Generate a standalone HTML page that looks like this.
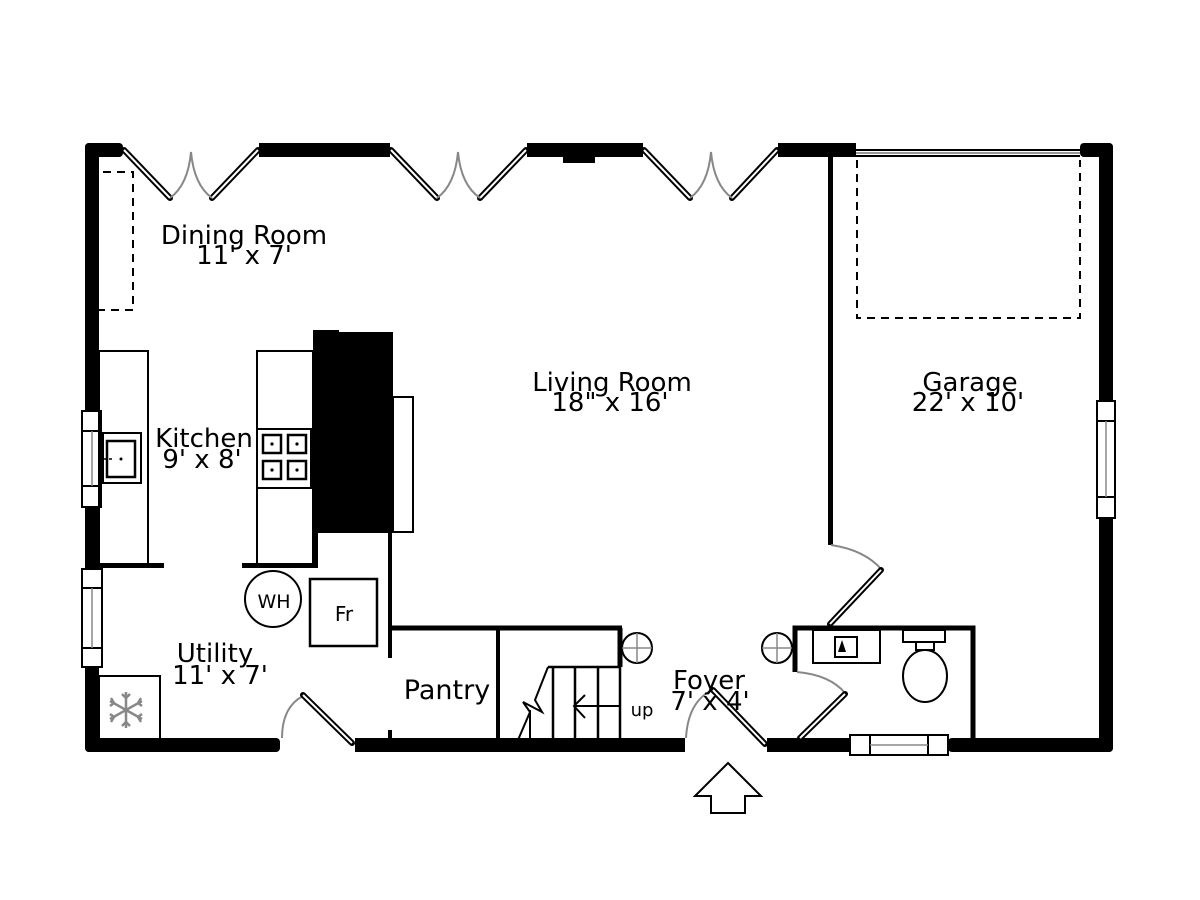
<!DOCTYPE html>
<html><head><meta charset="utf-8"><style>
html,body{margin:0;padding:0;background:#fff;width:1200px;height:900px;overflow:hidden}
svg{display:block}
text{font-family:"DejaVu Sans","Liberation Sans",sans-serif;fill:#000}
</style></head><body>
<svg width="1200" height="900" viewBox="0 0 1200 900" xmlns="http://www.w3.org/2000/svg">
<rect width="1200" height="900" fill="#fff"/>
<g fill="#000">
<rect x="85" y="143" width="14" height="609" rx="4"/>
<rect x="85" y="143" width="38" height="14" rx="4"/>
<rect x="259" y="143" width="131" height="14"/>
<rect x="527" y="143" width="116" height="14"/>
<rect x="563" y="155" width="32" height="8"/>
<rect x="778" y="143" width="78" height="14"/>
<rect x="1080" y="143" width="33" height="14" rx="4"/>
<rect x="1099" y="143" width="14" height="609" rx="4"/>
<rect x="85" y="738" width="195" height="14" rx="4"/>
<rect x="355" y="738" width="330" height="14"/>
<rect x="767" y="738" width="83" height="14"/>
<rect x="948" y="738" width="165" height="14" rx="4"/>
</g>
<g stroke="#000" stroke-width="2"><line x1="856" y1="150" x2="1080" y2="150"/><line x1="856" y1="156" x2="1080" y2="156"/></g>
<line x1="856" y1="153" x2="1080" y2="153" stroke="#999" stroke-width="2"/>
<g>
<g stroke="#000" stroke-width="6" stroke-linecap="round" fill="none">
<path d="M124 150 L170 198 M258 150 L212 198"/>
<path d="M391 150 L437 198 M526 150 L480 198"/>
<path d="M644 150 L690 198 M777 150 L732 198"/>
</g>
<g stroke="#fff" stroke-width="2" fill="none">
<path d="M124 150 L170 198 M258 150 L212 198"/>
<path d="M391 150 L437 198 M526 150 L480 198"/>
<path d="M644 150 L690 198 M777 150 L732 198"/>
</g>
<g stroke="#888" stroke-width="2" fill="none">
<path d="M170 198 Q188 185 191 152 Q194 185 212 198"/>
<path d="M437 198 Q455 185 458 152 Q461 185 480 198"/>
<path d="M690 198 Q708 185 711 152 Q714 185 732 198"/>
</g>
</g>
<g fill="none" stroke="#000" stroke-width="2" stroke-dasharray="8,6">
<path d="M103 172 H133 V310 H99"/>
<path d="M857 160 V318 H1080 V160"/>
</g>
<g fill="#fff" stroke="#000" stroke-width="2">
<rect x="82" y="411" width="19" height="96"/>
<line x1="82" y1="431" x2="101" y2="431"/><line x1="82" y1="486" x2="101" y2="486"/>
<rect x="82" y="569" width="20" height="98"/>
<line x1="82" y1="588" x2="102" y2="588"/><line x1="82" y1="648" x2="102" y2="648"/>
<rect x="1097" y="401" width="18" height="117"/>
<line x1="1097" y1="421" x2="1115" y2="421"/><line x1="1097" y1="497" x2="1115" y2="497"/>
<rect x="850" y="735" width="98" height="20"/>
<line x1="870" y1="735" x2="870" y2="755"/><line x1="928" y1="735" x2="928" y2="755"/>
</g>
<g stroke="#888" stroke-width="1.5">
<line x1="92" y1="431" x2="92" y2="486"/><line x1="92" y1="588" x2="92" y2="648"/>
<line x1="1106" y1="421" x2="1106" y2="497"/><line x1="870" y1="745" x2="928" y2="745"/>
</g>
<g fill="none" stroke="#000" stroke-width="2">
<rect x="99" y="351" width="49" height="214"/>
<rect x="257" y="351" width="56" height="214"/>
<rect x="103" y="433" width="38" height="50"/>
<rect x="107" y="441" width="28" height="36" stroke-width="2.5"/>
<rect x="257" y="429" width="54" height="59"/>
<rect x="263" y="435" width="18" height="18" stroke-width="2.5"/>
<rect x="288" y="435" width="18" height="18" stroke-width="2.5"/>
<rect x="263" y="461" width="18" height="18" stroke-width="2.5"/>
<rect x="288" y="461" width="18" height="18" stroke-width="2.5"/>
</g>
<g fill="#000"><circle cx="272" cy="444" r="1.6"/><circle cx="297" cy="444" r="1.6"/><circle cx="272" cy="470" r="1.6"/><circle cx="297" cy="470" r="1.6"/><circle cx="121" cy="459" r="1.5"/></g>
<line x1="104" y1="459" x2="114" y2="459" stroke="#000" stroke-width="1.5" stroke-dasharray="3,2"/>
<rect x="99" y="563" width="65" height="5" fill="#000"/>
<rect x="242" y="563" width="72" height="5" fill="#000"/>
<rect x="313" y="332" width="80" height="201" fill="#000"/>
<rect x="313" y="330" width="26" height="4" fill="#000"/>
<rect x="313" y="530" width="5" height="38" fill="#000"/>
<rect x="393" y="397" width="20" height="135" fill="#fff" stroke="#000" stroke-width="2"/>
<line x1="390" y1="533" x2="390" y2="658" stroke="#000" stroke-width="4"/>
<line x1="390" y1="730" x2="390" y2="740" stroke="#000" stroke-width="4"/>
<g stroke="#000" fill="none">
<line x1="390" y1="628" x2="622" y2="628" stroke-width="5"/>
<line x1="498" y1="628" x2="498" y2="740" stroke-width="4"/>
<line x1="620" y1="628" x2="620" y2="667" stroke-width="5"/>
<line x1="548" y1="667" x2="620" y2="667" stroke-width="2.5"/>
<g stroke-width="2.5"><line x1="553" y1="667" x2="553" y2="740"/><line x1="575" y1="667" x2="575" y2="740"/><line x1="598" y1="667" x2="598" y2="740"/><line x1="620" y1="667" x2="620" y2="740"/></g>
<line x1="575" y1="706" x2="620" y2="706" stroke-width="2"/>
<path d="M585 695 L574 706 L585 718" stroke-width="2"/>
<path d="M548 667 L535 700 L542 712 L523 702 L530 712 L518 740" stroke-width="2"/>
<line x1="530" y1="710" x2="530" y2="740" stroke-width="2"/>
</g>
<g fill="#fff" stroke="#000" stroke-width="2"><circle cx="637" cy="648" r="15"/><circle cx="777" cy="648" r="15"/></g>
<g stroke="#888" stroke-width="1.5"><path d="M622 648 H652 M637 633 V663 M762 648 H792 M777 633 V663"/></g>
<rect x="828" y="157" width="5" height="388" fill="#000"/>
<path d="M831 545 Q865 550 882 570" fill="none" stroke="#888" stroke-width="2"/>
<line x1="881" y1="570" x2="830" y2="624" stroke="#000" stroke-width="6" stroke-linecap="round"/>
<line x1="881" y1="570" x2="830" y2="624" stroke="#fff" stroke-width="2"/>
<g stroke="#000" fill="none">
<path d="M795 672 V628 H973 V740" stroke-width="5"/>
<rect x="813" y="630" width="67" height="33" stroke-width="2"/>
<rect x="835" y="637" width="22" height="20" stroke-width="2"/>
<rect x="903" y="630" width="42" height="12" stroke-width="2"/>
<rect x="916" y="642" width="18" height="8" stroke-width="2"/>
<ellipse cx="925" cy="676" rx="22" ry="26" stroke-width="2"/>
</g>
<path d="M842 640 L846 652 L838 652 Z" fill="#000"/>
<path d="M797 672 Q830 675 845 693" fill="none" stroke="#888" stroke-width="2"/>
<line x1="845" y1="694" x2="800" y2="738" stroke="#000" stroke-width="6" stroke-linecap="round"/>
<line x1="845" y1="694" x2="800" y2="738" stroke="#fff" stroke-width="2"/>
<circle cx="273" cy="599" r="28" fill="none" stroke="#000" stroke-width="2"/>
<rect x="310" y="579" width="67" height="67" fill="none" stroke="#000" stroke-width="2.5"/>
<rect x="99" y="676" width="61" height="64" fill="none" stroke="#000" stroke-width="2"/>
<g stroke="#888" stroke-width="2.5" fill="none" transform="translate(126,710)">
<path d="M0 -18 V18 M-16 -9 L16 9 M-16 9 L16 -9"/>
<path d="M-4 -16 L0 -12 L4 -16 M-4 16 L0 12 L4 16 M-16 -4 L-12 -7 L-15 -12 M16 4 L12 7 L15 12 M-16 4 L-12 7 L-15 12 M16 -4 L12 -7 L15 -12"/>
</g>
<path d="M282 738 Q282 707 303 696" fill="none" stroke="#888" stroke-width="2"/>
<line x1="303" y1="695" x2="352" y2="743" stroke="#000" stroke-width="6" stroke-linecap="round"/>
<line x1="303" y1="695" x2="352" y2="743" stroke="#fff" stroke-width="2"/>
<path d="M686 738 Q688 702 712 690" fill="none" stroke="#888" stroke-width="2"/>
<line x1="713" y1="690" x2="765" y2="744" stroke="#000" stroke-width="6" stroke-linecap="round"/>
<line x1="713" y1="690" x2="765" y2="744" stroke="#fff" stroke-width="2"/>
<path d="M728 763 L761 796 L745 796 L745 813 L711 813 L711 796 L695 796 Z" fill="#fff" stroke="#000" stroke-width="2"/>
<g font-size="26" text-anchor="middle">
<text x="244" y="244">Dining Room</text>
<text x="244" y="264">11' x 7'</text>
<text x="612" y="391">Living Room</text>
<text x="610" y="411">18" x 16'</text>
<text x="970" y="391">Garage</text>
<text x="968" y="411">22' x 10'</text>
<text x="204" y="447">Kitchen</text>
<text x="202" y="468">9' x 8'</text>
<text x="215" y="662">Utility</text>
<text x="220" y="684">11' x 7'</text>
<text x="447" y="699" font-size="27">Pantry</text>
<text x="709" y="689">Foyer</text>
<text x="710" y="710">7' x 4'</text>
<text x="274" y="608" font-size="19">WH</text>
<text x="344" y="621" font-size="20">Fr</text>
<text x="642" y="716" font-size="18" fill="#333">up</text>
</g>
</svg>
</body></html>
